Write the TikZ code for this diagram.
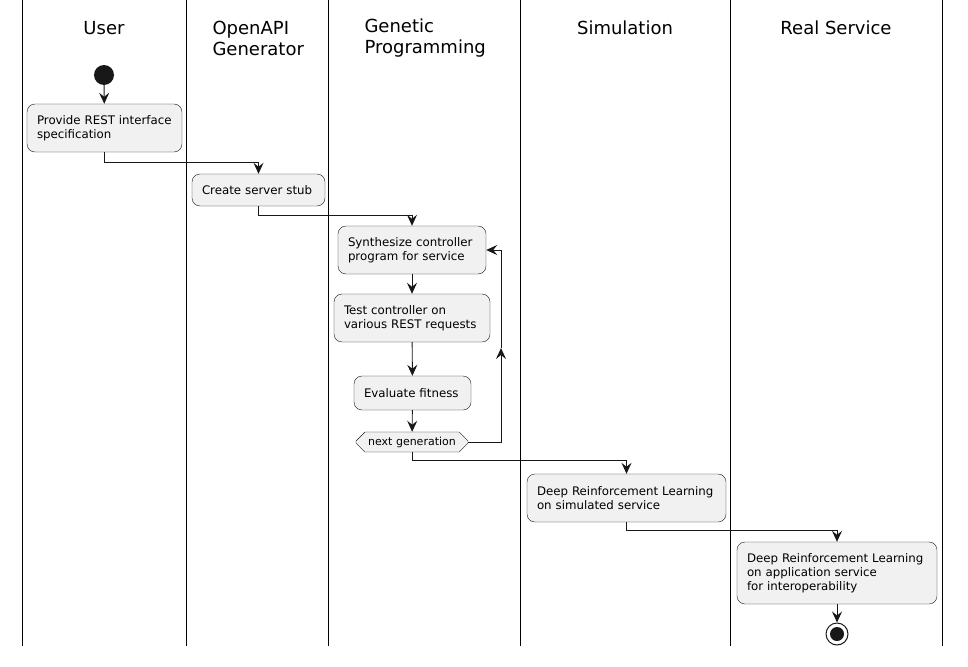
\documentclass[tikz,border=0pt]{standalone}
\usepackage{fontspec}
\setmainfont{DejaVu Sans}
\usetikzlibrary{arrows.meta,shapes.misc}
\definecolor{actfill}{HTML}{F1F1F1}
\definecolor{ink}{HTML}{181818}
\tikzset{
  act/.style={draw=ink, fill=actfill, rounded corners=8pt, align=left,
    font=\fontsize{11.8}{14}\selectfont, inner xsep=10pt, inner ysep=5pt},
  flow/.style={draw=ink, line width=0.9pt, -{Stealth[length=11pt,width=10pt,inset=4pt]}},
  lane/.style={draw=black, line width=1pt},
  head/.style={font=\fontsize{18}{21}\selectfont, align=left}
}
\begin{document}
\begin{tikzpicture}[x=1pt,y=-1pt]
  \useasboundingbox (0,0) rectangle (968,666);
  % lanes
  \foreach \x in {22,186,328,520,730,942}
    \draw[lane] (\x,0) -- (\x,646);
  \node[head] (hUser) at (104,28) {User};
  \node[head, anchor=west] (hGen) at (209,38) {OpenAPI\\Generator};
  \node[head, anchor=west] (hGP) at (361,38) {Genetic\\Programming};
  \node[head] (hSim) at (625,28) {Simulation};
  \node[head] (hReal) at (836,28) {Real Service};
  % activities
  \node[circle, fill=ink, minimum size=20pt, inner sep=0pt] (start) at (104,75) {};
  \node[act, text width=135pt, minimum height=48pt] (spec) at (104.5,128) {Provide REST interface\\specification};
  \node[act, text width=113pt, minimum height=32pt] (stub) at (258.5,190) {Create server stub};
  \node[act, text width=128pt, minimum height=48pt] (synth) at (412,250) {Synthesize controller\\program for service};
  \node[act, text width=136pt, minimum height=48pt] (test) at (412,318) {Test controller on\\various REST requests};
  \node[act, text width=97pt, minimum height=34pt] (fit) at (412.5,393) {Evaluate fitness};
  \node[chamfered rectangle, chamfered rectangle xsep=10pt, draw=ink, fill=actfill,
    minimum width=112pt, minimum height=20pt, inner sep=0pt,
    font=\fontsize{11}{13}\selectfont] (gen) at (412,442) {next generation};
  \node[act, text width=179pt, minimum height=48pt] (drlSim) at (626.5,498) {Deep Reinforcement Learning\\on simulated service};
  \node[act, text width=180pt, minimum height=62pt] (drlReal) at (837,573) {Deep Reinforcement Learning\\on application service\\for interoperability};
  \node[circle, draw=ink, line width=1pt, minimum size=22pt, inner sep=0pt] (stop) at (837,634) {};
  \node[circle, fill=ink, minimum size=14pt, inner sep=0pt] (stopIn) at (stop) {};
  \coordinate (loop) at (501,348);
  % flows
  \draw[flow] (start) -- (spec);
  \draw[flow] (spec.south) -- ++(0,10) -| (stub.north);
  \draw[flow] (stub.south) -- ++(0,9) -| (synth.north);
  \draw[flow] (synth) -- (test);
  \draw[flow] (test) -- (fit);
  \draw[flow] (fit) -- (gen);
  \draw[flow] (gen.east) -| (loop);
  \draw[flow] (loop) |- (synth.east);
  \draw[flow] (gen.south) -- ++(0,8) -| (drlSim.north);
  \draw[flow] (drlSim.south) -- ++(0,8) -| (drlReal.north);
  \draw[flow] (drlReal) -- (stop);
\end{tikzpicture}
\end{document}
